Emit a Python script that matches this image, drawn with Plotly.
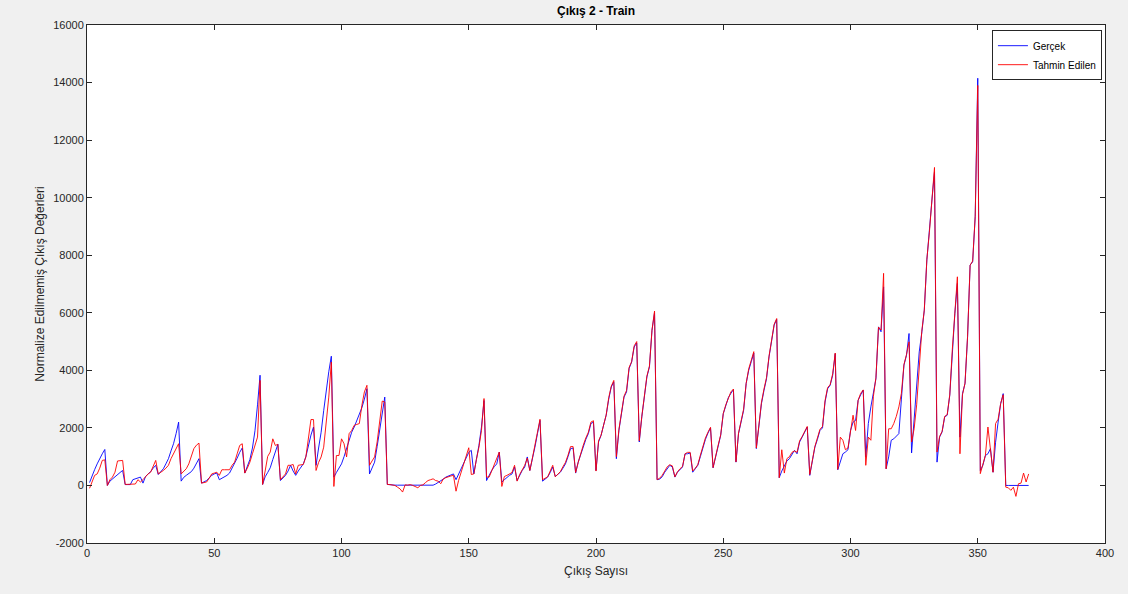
import plotly.graph_objects as go

# values (index 1..370)
gercek = [
    100, 350, 550, 750, 950, 1100, 1250, 0, 150, 230,
    320, 400, 450, 520, 30, 30, 30, 200, 230, 260,
    290, 80, 310, 400, 480, 600, 700, 380, 470, 580,
    750, 930, 1200, 1450, 1800, 2200, 150, 280, 350, 400,
    480, 600, 750, 930, 80, 130, 170, 260, 350, 400,
    430, 200, 250, 290, 350, 430, 600, 750, 950, 1150,
    1300, 430, 700, 900, 1300, 1900, 2800, 3830, 35, 300,
    450, 615, 900, 1200, 1430, 170, 250, 350, 500, 700,
    500, 350, 500, 650, 750, 1000, 1400, 1750, 2030, 700,
    1300, 1850, 2600, 3350, 3950, 4490, 290, 450, 600, 750,
    1000, 1280, 1600, 1850, 2030, 2250, 2440, 2700, 3000, 3360,
    400, 600, 810, 1350, 1910, 2500, 3070, 35, 20, 20,
    10, 10, 10, 10, 10, 10, 10, 10, 10, 10,
    10, 10, 10, 10, 10, 10, 50, 100, 150, 220,
    290, 330, 370, 400, 200, 380, 560, 750, 950, 1150,
    1220, 400, 900, 1390, 2030, 2950, 170, 350, 520, 650,
    750, 1160, 120, 200, 290, 350, 400, 640, 170, 350,
    520, 640, 990, 520, 900, 1330, 1800, 2260, 150, 220,
    290, 450, 640, 310, 380, 460, 600, 750, 1000, 1280,
    1300, 430, 810, 1100, 1390, 1600, 1800, 2150, 2200, 520,
    1510, 1740, 2100, 2440, 3000, 3420, 3600, 930, 1910, 2500,
    3070, 3250, 4060, 4290, 4810, 4950, 1510, 2380, 3100, 3770,
    4120, 5390, 6000, 200, 220, 300, 460, 600, 700, 640,
    290, 460, 550, 640, 1100, 1100, 1130, 460, 580, 700,
    1000, 1330, 1600, 1820, 2000, 615, 1000, 1390, 1740, 2490,
    2780, 3050, 3200, 3330, 810, 1800, 2200, 2610, 3540, 4000,
    4300, 4600, 1280, 2030, 2840, 3300, 3710, 4470, 5000, 5570,
    5770, 270, 500, 700, 850, 930, 1100, 1220, 1100, 1510,
    1680, 1850, 2030, 350, 870, 1330, 1600, 1910, 2000, 2900,
    3360, 3480, 3830, 4580, 545, 870, 1100, 1160, 1240, 1910,
    2200, 2260, 2960, 3150, 3310, 990, 2150, 2730, 3200, 3710,
    5510, 5340, 6900, 580, 990, 1570, 1620, 1700, 1800, 3000,
    4180, 4520, 5280, 1130, 2300, 3420, 4640, 5300, 6090, 7830,
    8760, 9920, 10900, 810, 1680, 1860, 2380, 2440, 3130, 4700,
    5970, 7020, 1680, 3190, 3540, 5160, 7660, 7770, 9340, 14150,
    520, 700, 1040, 1100, 1280, 460, 1500, 2200, 2840, 3190,
    0, 0, 0, 0, 0, 0, 0, 0, 0, 0,
]

tahmin = [
    -100, 150, 350, 400, 600, 870, 890, 0, 200, 290,
    460, 850, 870, 870, 35, 35, 35, 35, 50, 200,
    120, 200, 310, 400, 460, 700, 870, 400, 450, 520,
    600, 700, 930, 1100, 1300, 1450, 400, 500, 580, 750,
    990, 1280, 1400, 1470, 80, 100, 120, 250, 400, 430,
    460, 350, 545, 545, 545, 545, 700, 810, 1100, 1390,
    1450, 430, 600, 810, 1100, 1400, 1680, 3650, 35, 500,
    1010, 1160, 1620, 1390, 1430, 200, 300, 400, 700, 700,
    730, 400, 700, 720, 730, 990, 1600, 2290, 2290, 520,
    800, 990, 1330, 2200, 3070, 4290, -35, 1040, 1040, 1620,
    1450, 990, 1800, 1910, 2090, 2120, 2150, 2780, 3250, 3480,
    700, 850, 990, 1510, 2320, 2930, 2900, 35, 30, 20,
    0, -60, -120, -230, 20, 10, 30, 0, -30, -80,
    0, 20, 100, 170, 200, 230, 170, 150, 60, 230,
    270, 310, 330, 350, -200, 170, 450, 750, 1000, 1310,
    380, 400, 900, 1330, 1910, 3020, 290, 290, 500, 700,
    900, 1160, -35, 310, 350, 400, 450, 700, 150, 380,
    550, 700, 950, 520, 950, 1350, 1850, 2300, 200, 250,
    300, 500, 700, 300, 400, 480, 650, 800, 1050, 1350,
    1350, 450, 800, 1150, 1400, 1650, 1850, 2200, 2250, 500,
    1550, 1750, 2150, 2450, 3050, 3450, 3650, 1000, 1950, 2550,
    3100, 3300, 4100, 4300, 4850, 5000, 1550, 2400, 3150, 3800,
    4150, 5400, 6060, 200, 250, 350, 500, 650, 720, 680,
    300, 470, 580, 660, 1100, 1150, 1150, 500, 600, 720,
    1050, 1350, 1650, 1850, 2020, 620, 1050, 1400, 1760, 2500,
    2800, 3060, 3250, 3350, 820, 1820, 2250, 2650, 3550, 4050,
    4350, 4650, 1300, 2050, 2880, 3350, 3750, 4500, 5050, 5600,
    5800, 270, 1240, 430, 930, 1000, 1150, 1200, 1150, 1550,
    1700, 1900, 2050, 380, 900, 1350, 1650, 1950, 2050, 2950,
    3400, 3500, 3880, 4600, 560, 1680, 1570, 1240, 1300, 1910,
    2440, 1910, 2960, 3200, 3320, 700, 1680, 1570, 3100, 3750,
    5500, 5400, 7370, 580, 1970, 1970, 2150, 2400, 2730, 3200,
    4200, 4550, 4990, 1510, 1970, 2800, 4000, 5350, 6100, 7850,
    8800, 9950, 11050, 1160, 1700, 1880, 2400, 2460, 3150, 4720,
    6000, 7250, 1100, 3150, 3560, 5180, 7650, 7800, 9360, 13900,
    410, 700, 1040, 2030, 1280, 460, 2150, 2300, 2850, 3150,
    -60, -80, -170, -60, -380, 60, 80, 430, 120, 400,
]

x_index = list(range(1, len(gercek) + 1))

x_ticks = [0, 50, 100, 150, 200, 250, 300, 350, 400]
y_ticks = [-2000, 0, 2000, 4000, 6000, 8000, 10000, 12000, 14000, 16000]
y_tick_text = ["-2000", "0", "2000", "4000", "6000", "8000", "10000", "12000", "14000", "16000"]

font_family = "Liberation Sans, Arial, sans-serif"
axis_color = "#262626"

fig = go.Figure()

fig.add_trace(go.Scatter(
    x=x_index, y=gercek,
    mode="lines", name="Gerçek",
    line=dict(color="rgb(0,0,255)", width=0.9)
))
fig.add_trace(go.Scatter(
    x=x_index, y=tahmin,
    mode="lines", name="Tahmin Edilen",
    line=dict(color="rgb(255,0,0)", width=0.9)
))

axis_common = dict(
    automargin=False,
    showgrid=False, zeroline=False,
    showline=True, linecolor=axis_color, linewidth=1, mirror="ticks",
    ticks="inside", ticklen=5, tickcolor=axis_color,
    tickfont=dict(family=font_family, size=11, color=axis_color),
)

fig.update_layout(
    width=1128, height=594,
    margin=dict(l=87, r=23, t=25, b=51),
    paper_bgcolor="#f0f0f0",
    plot_bgcolor="white",
    title=dict(
        text="<b>Çıkış 2 - Train</b>",
        x=0.5, xref="paper", xanchor="center",
        y=1, yref="container", yanchor="top", pad=dict(t=7),
        font=dict(family=font_family, size=12, color="black")
    ),
    xaxis=dict(
        range=[0, 400], tickvals=x_ticks,
        title=dict(text="Çıkış Sayısı", standoff=8,
                   font=dict(family=font_family, size=12, color=axis_color)),
        **axis_common
    ),
    yaxis=dict(
        range=[-2000, 16000], tickvals=y_ticks, ticktext=y_tick_text,
        title=dict(text="Normalize Edilmemiş Çıkış Değerleri", standoff=6,
                   font=dict(family=font_family, size=12, color=axis_color)),
        **axis_common
    ),
    showlegend=True,
    legend=dict(
        x=0.997, y=0.99, xanchor="right", yanchor="top",
        bgcolor="white", bordercolor=axis_color, borderwidth=1,
        font=dict(family=font_family, size=10, color="black"),
        tracegroupgap=0, itemwidth=30
    ),
)

# page body has a default margin; drop it so the figure fills the window
fig.write_html("out.html", config={"displayModeBar": False},
               post_script="document.body.style.margin='0';")
